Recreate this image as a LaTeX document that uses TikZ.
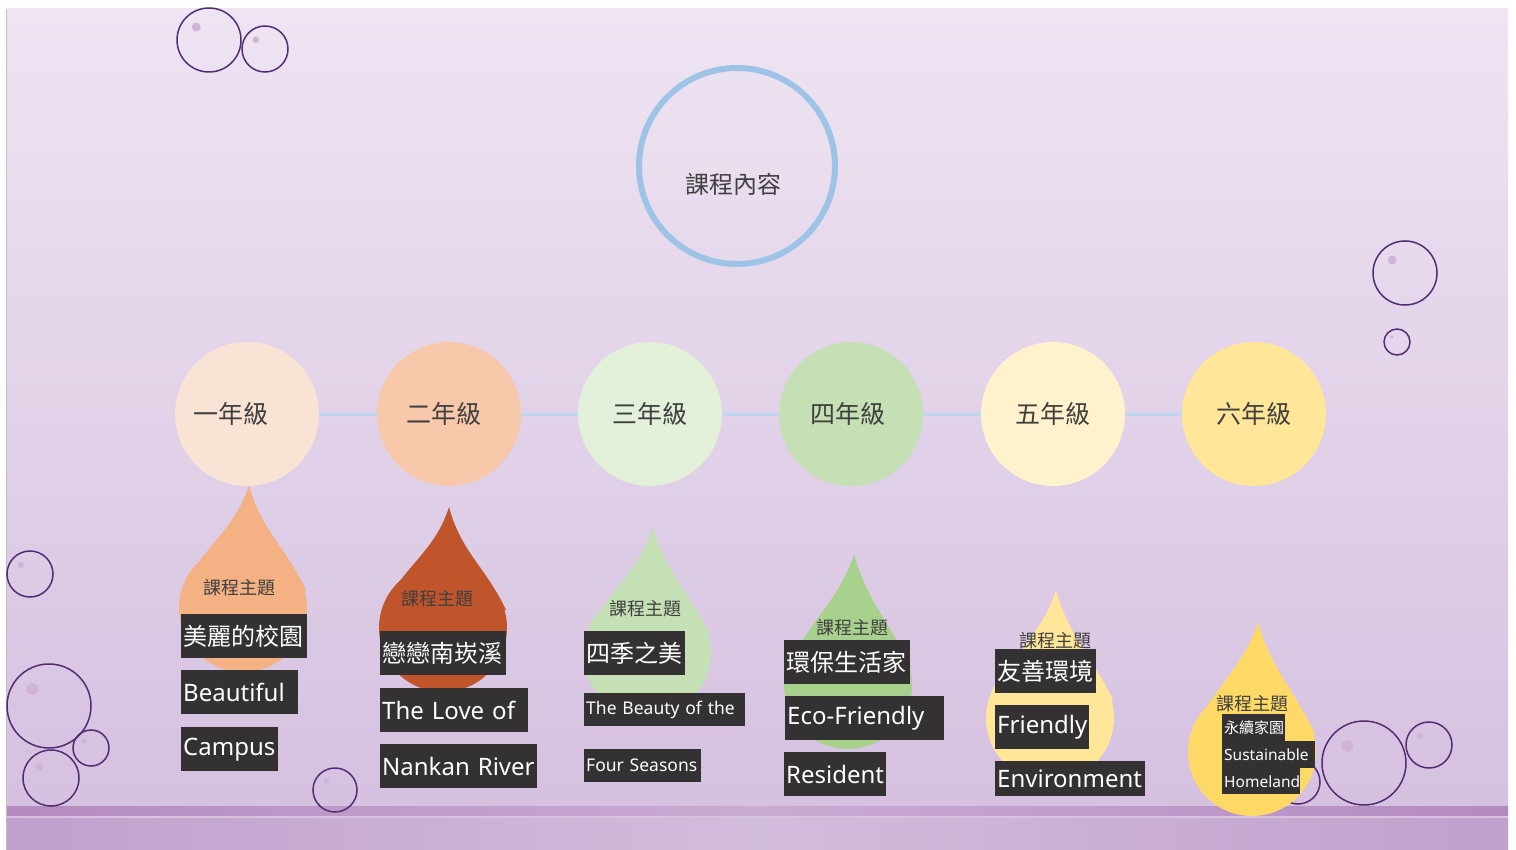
\documentclass[tikz,border=0pt]{standalone}
\usepackage{fontspec}
\setmainfont{Noto Sans}
\newfontfamily\cjk{Noto Sans CJK TC}
\usetikzlibrary{positioning}
\definecolor{bgtop}{HTML}{EEE4F2}
\definecolor{bgbot}{HTML}{D4BFDF}
\definecolor{banddark}{HTML}{B48BC0}
\definecolor{bandmid}{HTML}{C9ABD3}
\definecolor{bandlight}{HTML}{D7C3E0}
\definecolor{bandlow}{HTML}{C0A0CD}
\definecolor{bubble}{HTML}{532C73}
\definecolor{shine}{HTML}{D1B3DA}
\definecolor{ring}{HTML}{9DC3E6}
\definecolor{linkcol}{HTML}{BDD7EE}
\definecolor{gone}{HTML}{F9E3D5}
\definecolor{gtwo}{HTML}{F7C8AA}
\definecolor{gthree}{HTML}{E2EFD9}
\definecolor{gfour}{HTML}{C5E0B4}
\definecolor{gfive}{HTML}{FFF2CC}
\definecolor{gsix}{HTML}{FFE699}
\definecolor{done}{HTML}{F4B183}
\definecolor{dtwo}{HTML}{C0542A}
\definecolor{dthree}{HTML}{C5E0B4}
\definecolor{dfour}{HTML}{A9D18E}
\definecolor{dfive}{HTML}{FFE699}
\definecolor{dsix}{HTML}{FFD966}
\definecolor{boxcol}{HTML}{333132}
\definecolor{ink}{HTML}{404040}
\tikzset{
  grade/.style={circle, minimum size=144pt, inner sep=0pt, text=ink, font=\cjk\fontsize{25}{30}\selectfont},
  link/.style={linkcol, line width=3pt},
  theme/.style={text=ink, inner sep=0pt, font=\cjk\fontsize{18}{22}\selectfont},
  tbox/.style={fill=boxcol, text=white, anchor=north west, inner xsep=2pt, inner ysep=0pt, minimum height=44pt, align=left},
  big/.style={font=\fontsize{24}{28}\selectfont},
  bigcjk/.style={font=\cjk\fontsize{24}{28}\selectfont},
  mid/.style={font=\fontsize{17.5}{21}\selectfont, minimum height=33pt},
  small/.style={font=\fontsize{15.5}{18}\selectfont, minimum height=27pt},
}
% teardrop: centre x, centre y, tip y, colour
\newcommand{\teardrop}[4]{%
  \fill[#4] (#1,#2) circle[radius=64];
  \fill[#4] (#1-61,#2-18) .. controls (#1-40,#2-62) and (#1-8,#3+45) .. (#1+6,#3)
    .. controls (#1+18,#3+45) and (#1+42,#2-62) .. (#1+63,#2-18) -- cycle;}
\begin{document}
\begin{tikzpicture}[x=1pt, y=-1pt]
\useasboundingbox (0,0) rectangle (1516,850);
\fill[white] (0,0) rectangle (1516,850);
\shade[top color=bgtop, bottom color=bgbot] (7,9) rectangle (1508,850);
\draw[black!25, line width=1pt] (6.5,9) -- (6.5,850);
% band at the bottom
\shade[left color=banddark, right color=banddark, middle color=bandmid] (7,806) rectangle (1508,816);
\fill[bandlight] (7,816) rectangle (1508,818);
\shade[left color=bandlow, right color=bandlow, middle color=bandlight!80!bandlow] (7,818) rectangle (1508,850);
% bubbles
\foreach \x/\y/\r in {209/40/32, 265/49/23, 1405/273/32, 1397/342/13, 30/574/23,
    49/706/42, 91/748/18, 51/778/28, 335/790/22, 1364/763/42, 1429/745/23, 1298/782/22}{
  \fill[shine] (\x-0.4*\r,\y-0.4*\r) circle[radius=0.14*\r];
  \draw[bubble, line width=1.5pt] (\x,\y) circle[radius=\r];
}
% topic
\node[circle, draw=ring, line width=6pt, minimum size=196pt] (topic) at (737,166) {};
\node[text=ink, font=\cjk\fontsize{24}{28}\selectfont] (topictxt) at (733,184) {課程內容};
% grades
\node[grade, fill=gone] (g1) at (247,414) {\hspace*{-32pt}一年級};
\node[grade, fill=gtwo] (g2) at (449,414) {\hspace*{-10pt}二年級};
\node[grade, fill=gthree] (g3) at (650,414) {三年級};
\node[grade, fill=gfour] (g4) at (851,414) {\hspace*{-6pt}四年級};
\node[grade, fill=gfive] (g5) at (1053,414) {五年級};
\node[grade, fill=gsix] (g6) at (1254,414) {六年級};
\foreach \a/\b in {g1/g2, g2/g3, g3/g4, g4/g5, g5/g6}
  \draw[link] (\a) -- (\b);
% drops
\teardrop{243}{608}{485}{done}
\teardrop{443}{628}{507}{dtwo}
\teardrop{647}{653}{527}{dthree}
\teardrop{848}{685}{554}{dfour}
\teardrop{1050}{718}{590}{dfive}
\teardrop{1252}{752}{622}{dsix}
% first grade
\node[theme] (t1) at (239,588) {課程主題};
\node[tbox, bigcjk, text width=122pt] (b1a) at (181,614) {美麗的校園};
\node[tbox, big, text width=113pt] (b1b) at (181,670) {Beautiful};
\node[tbox, big, text width=93pt] (b1c) at (181,727) {Campus};
% second grade
\node[theme] (t2) at (437,599) {課程主題};
\node[tbox, bigcjk, text width=122pt] (b2a) at (380,631) {戀戀南崁溪};
\node[tbox, big, text width=144pt] (b2b) at (380,688) {The Love of};
\node[tbox, big, text width=153pt] (b2c) at (380,744) {\mbox{Nankan River}};
% third grade
\node[theme] (t3) at (645,609) {課程主題};
\node[tbox, bigcjk, text width=97pt] (b3a) at (584,631) {四季之美};
\node[tbox, mid, text width=157pt] (b3b) at (584,693) {\mbox{The Beauty of the}};
\node[tbox, mid, text width=113pt] (b3c) at (584,749) {\mbox{Four Seasons}};
% fourth grade
\node[theme] (t4) at (852,628) {課程主題};
\node[tbox, bigcjk, text width=122pt] (b4a) at (784,640) {環保生活家};
\node[tbox, big, text width=155pt] (b4b) at (785,696) {Eco-Friendly};
\node[tbox, big, text width=98pt] (b4c) at (784,752) {Resident};
% fifth grade
\node[theme] (t5) at (1055,641) {課程主題};
\node[tbox, bigcjk, text width=97pt] (b5a) at (995,649) {友善環境};
\node[tbox, big, text width=90pt] (b5b) at (995,705) {Friendly};
\node[tbox, big, minimum height=35pt, text width=146pt] (b5c) at (995,761) {Environment};
% sixth grade
\node[theme] (t6) at (1252,704) {課程主題};
\node[tbox, small, font=\cjk\fontsize{15}{18}\selectfont, text width=59pt] (b6a) at (1222,714) {永續家園};
\node[tbox, small, text width=89pt] (b6b) at (1222,741) {Sustainable};
\node[tbox, small, minimum height=26pt, text width=74pt] (b6c) at (1222,768) {Homeland};
\end{tikzpicture}
\end{document}
